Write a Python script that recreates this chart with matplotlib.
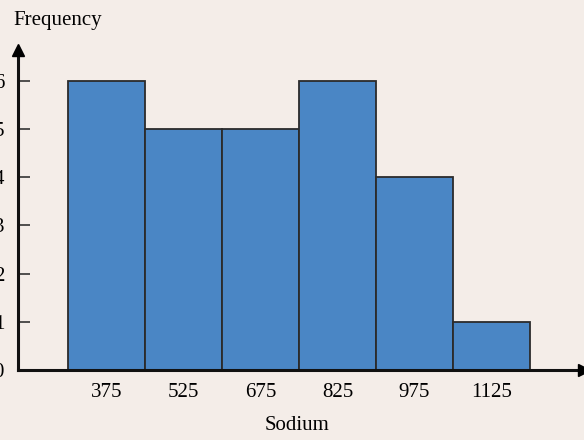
import matplotlib.pyplot as plt

# histogram of sodium content
bin_centers = [375, 525, 675, 825, 975, 1125]
frequencies = [6, 5, 5, 6, 4, 1]
bin_width = 150
y_ticks = [0, 1, 2, 3, 4, 5, 6]

bg = '#f4ede8'
plt.rcParams['font.family'] = ['Liberation Serif', 'DejaVu Serif']

fig = plt.figure(figsize=(5.84, 4.4), dpi=100, facecolor=bg)
ax = fig.add_axes([18 / 584, 1 - 370 / 440, 1 - 18 / 584, 320 / 440])
ax.set_facecolor(bg)

ax.bar(bin_centers, frequencies, width=bin_width, color='#4a86c5',
       edgecolor='#2b2b2b', linewidth=1.3, zorder=2)

ax.set_xlim(203, 1305)
ax.set_ylim(0, 6.64)
ax.set_xticks(bin_centers)
ax.set_xticklabels([str(c) for c in bin_centers])
ax.set_yticks(y_ticks)

for s in ['top', 'right']:
    ax.spines[s].set_visible(False)
for s in ['left', 'bottom']:
    ax.spines[s].set_linewidth(2.2)
    ax.spines[s].set_color('#111111')
    ax.spines[s].set_zorder(4)

ax.tick_params(axis='x', direction='in', length=8, width=1.2,
               color='#333333', pad=9, labelsize=15)
ax.tick_params(axis='y', direction='in', length=8.5, width=1.2,
               color='#333333', pad=10, labelsize=15)

# arrow heads on the axes
ax.plot(1, 0, marker='>', markersize=9, color='black',
        transform=ax.transAxes, clip_on=False, zorder=5)
ax.plot(0, 1, marker='^', markersize=9, color='black',
        transform=ax.transAxes, clip_on=False, zorder=5)

fig.text(13 / 584, 1 - 20 / 440, 'Frequency', fontsize=15, va='center')
fig.text(297 / 584, 1 - 425 / 440, 'Sodium', fontsize=15,
         ha='center', va='center')

fig.savefig('out.png', dpi=100, facecolor=bg)
